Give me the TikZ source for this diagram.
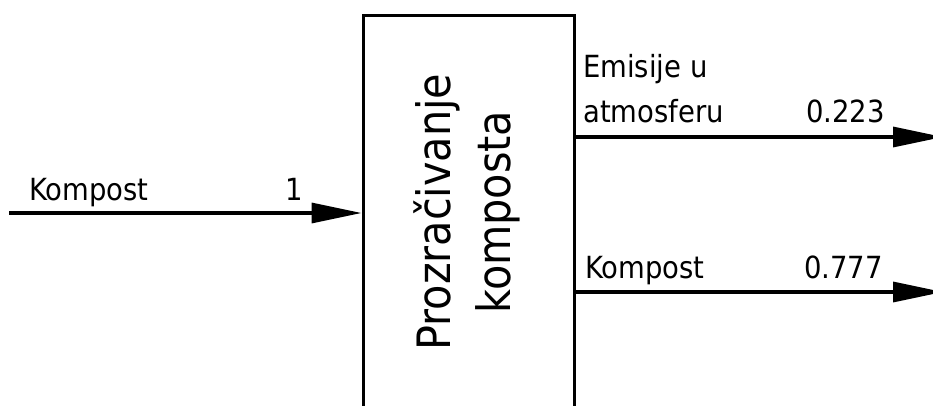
\documentclass[tikz,border=0pt]{standalone}
\usepackage{fontspec}
\setmainfont{DejaVu Sans Condensed}
\usetikzlibrary{arrows.meta}
\tikzset{
  flow/.style={line width=3.3pt, -{Triangle[length=50pt,width=20pt]}},
  lbl/.style={inner sep=0pt, font=\fontsize{30.5}{34}\selectfont},
  procbox/.style={draw, line width=3.3pt, rectangle, minimum width=211pt, minimum height=420pt, inner sep=0pt},
  proclbl/.style={rotate=90, align=center, inner sep=0pt, font=\fontsize{46}{60}\selectfont}
}
\begin{document}
\begin{tikzpicture}[x=1pt,y=1pt]
\useasboundingbox (0,0) rectangle (933,405);
\clip (0,0) rectangle (933,405);
\node[procbox] (box) at (468.7,179.3) {};
\node[proclbl] (boxtxt) at (467,193) {Prozračivanje\\komposta};
% input
\coordinate (inL) at (9,192);
\draw[flow] (inL) -- (inL -| box.west);
\node[lbl, anchor=base west] (inname) at (29,205) {Kompost};
\node[lbl, anchor=base east] (inval) at (303,205) {1};
% output 1
\coordinate (o1R) at (943,268);
\draw[flow] (o1R -| box.east) -- (o1R);
\node[lbl, anchor=base west] (o1a) at (583,327) {Emisije u};
\node[lbl, anchor=base west] (o1b) at (583,283) {atmosferu};
\node[lbl, anchor=base east] (o1v) at (885,283) {0.223};
% output 2
\coordinate (o2R) at (943,113);
\draw[flow] (o2R -| box.east) -- (o2R);
\node[lbl, anchor=base west] (o2a) at (585,127) {Kompost};
\node[lbl, anchor=base east] (o2v) at (883,127) {0.777};
\end{tikzpicture}
\end{document}
